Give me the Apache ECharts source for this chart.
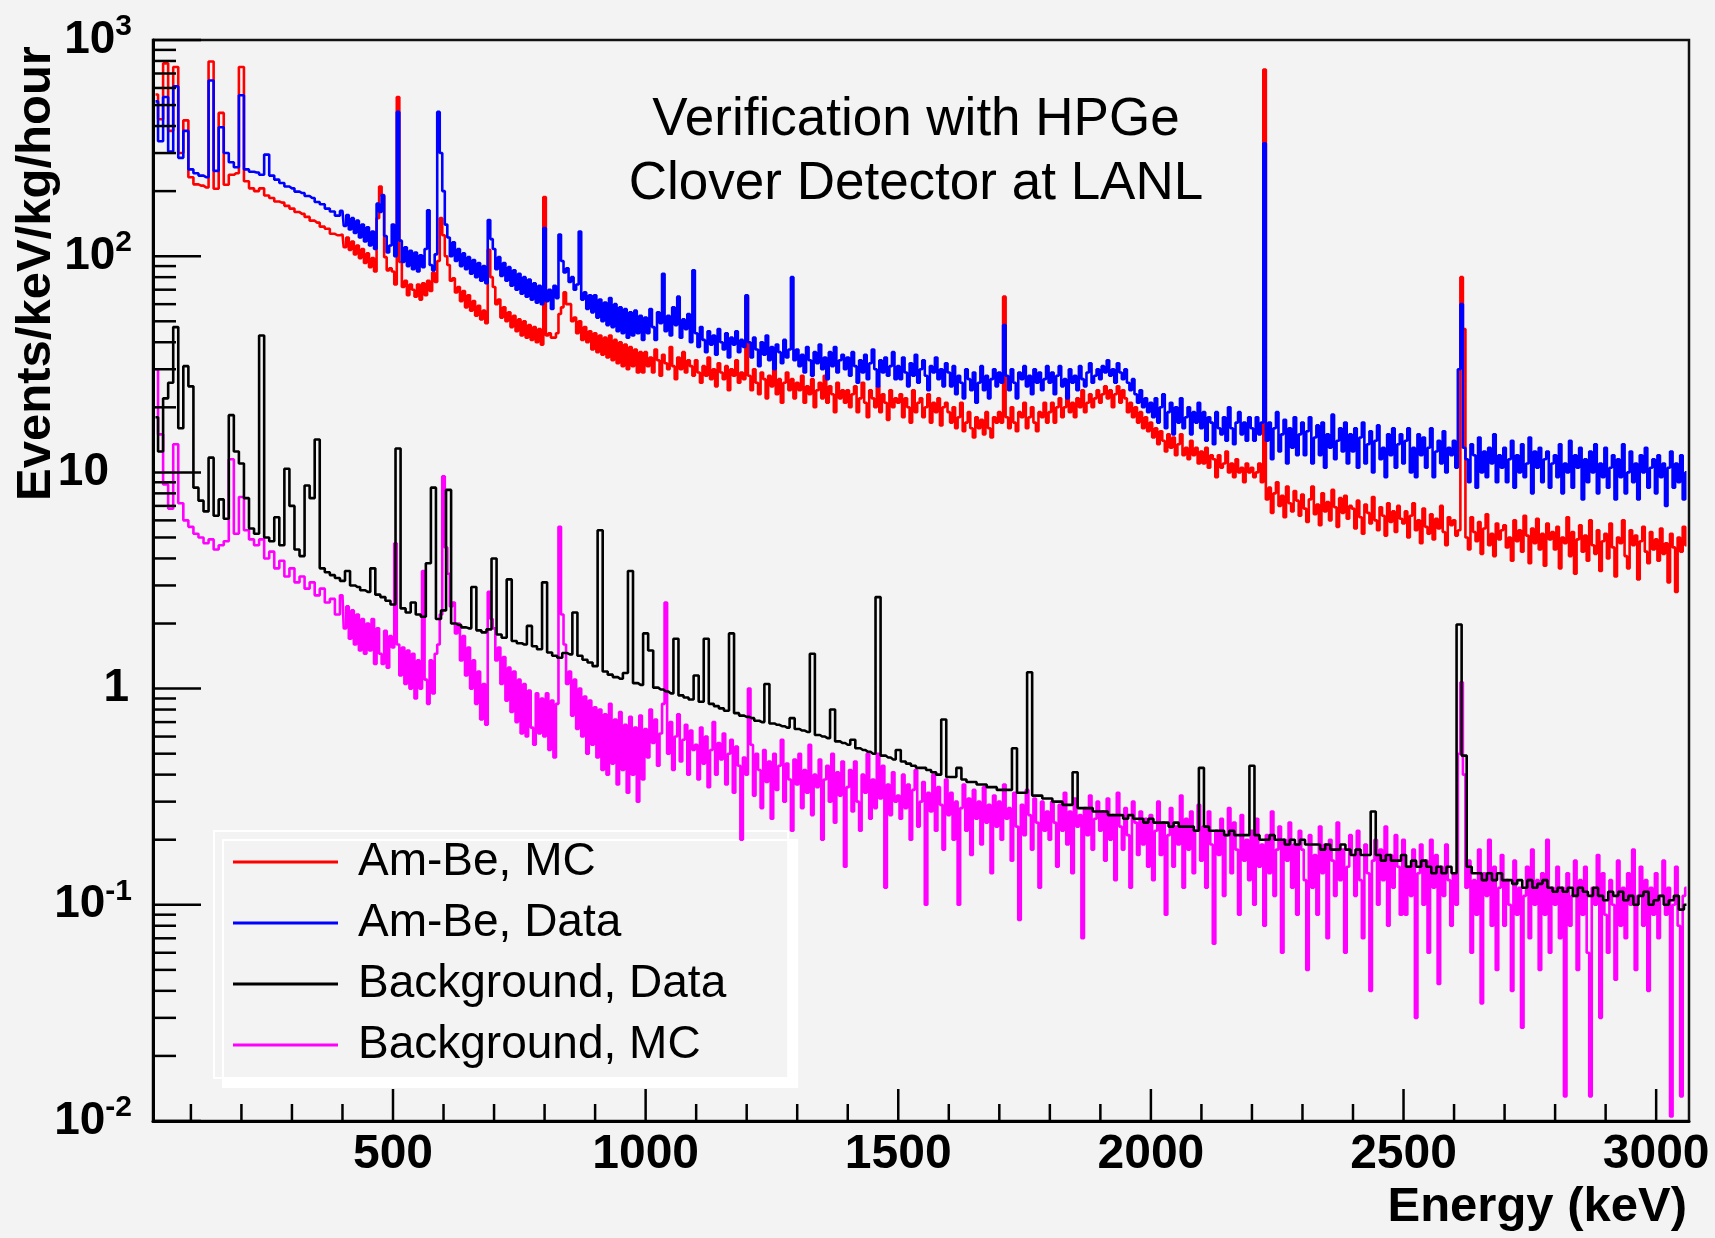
<!DOCTYPE html>
<html><head><meta charset="utf-8">
<script src="https://cdn.jsdelivr.net/npm/echarts@6/dist/echarts.min.js"></script>
<style>html,body{margin:0;padding:0;background:#f3f3f3;} #chart{width:1715px;height:1238px;}</style>
</head><body><div id="chart"></div>
<script>
// Low-energy part: 10 keV bins, centres 30..390 keV. High-energy part: 5 keV bins, centres 400..3060 keV.
const lowStart = 30, lowWidth = 10, highStart = 400, highWidth = 5;
const seriesNames = ['Am-Be, MC', 'Am-Be, Data', 'Background, Data', 'Background, MC'];

const amBeMCLow = [
 560, 430, 780, 380, 750, 300, 425, 232, 215, 212,
 208, 795, 205, 460, 214, 238, 242, 750, 222, 206,
 200, 206, 191, 186, 179, 177, 171, 166, 160, 157,
 152, 146, 143, 137, 134, 127, 125
];
const amBeMCHigh = [
 126, 110, 122, 107, 117, 102, 112, 98, 108, 93, 103, 89, 98, 85, 150, 210, 190, 99, 86, 88,
 85, 74, 545, 94, 72, 77, 66, 74, 70, 65, 74, 63, 75, 66, 77, 69, 84, 76, 95, 150,
 125, 100, 91, 77, 79, 68, 72, 62, 69, 58, 66, 56, 62, 53, 59, 51, 56, 49, 107, 80,
 72, 60, 63, 52, 58, 50, 55, 47, 53, 45, 51, 43, 50, 42, 48, 41, 47, 40, 46, 39,
 188, 43, 44, 42, 42, 44, 54, 58, 68, 60, 60, 50, 52, 44, 50, 41, 47, 40, 45, 37,
 44, 36, 43, 35, 42, 34, 43, 33, 41, 32, 40, 31, 39, 30, 38, 31, 37, 29, 36, 29,
 36, 31, 34, 29, 37, 33, 28, 35, 32, 30, 38, 31, 27, 34, 30, 36, 29, 33, 31, 28,
 33, 29, 26, 31, 28, 34, 27, 30, 25, 32, 29, 27, 31, 24, 30, 28, 33, 26, 29, 27,
 65, 28, 24, 30, 26, 23, 29, 27, 22, 28, 25, 30, 23, 27, 21, 26, 29, 24, 27, 22,
 26, 24, 28, 21, 25, 23, 27, 20, 24, 26, 22, 28, 21, 25, 23, 19, 26, 22, 24, 21,
 24, 20, 23, 25, 19, 22, 26, 21, 18, 24, 22, 20, 25, 19, 23, 21, 17.5, 24, 20, 22,
 21, 23, 18, 22, 20, 17, 24, 19, 21, 22, 18, 20, 23, 17, 21, 19, 22, 16.5, 20, 21,
 19, 17, 20, 16, 18, 21, 15.5, 17, 19, 16, 14.5, 18, 16, 17.5, 15, 19, 16, 14.5, 18, 17,
 19, 17, 65, 18, 16, 20, 17, 15.5, 19, 18, 21, 16, 18, 20, 17, 15.5, 19, 18, 21, 17,
 19, 21, 17, 20, 22, 18, 20, 23, 19, 21, 18, 22, 20, 24, 19, 21, 23, 20, 22, 24,
 21, 23, 25, 22, 24, 20, 23, 25, 21, 24, 22, 19, 21, 18, 20, 17, 19, 16, 18, 15.5,
 17, 14.5, 16, 13.5, 15.5, 14, 12.5, 15, 13, 14.5, 12, 13.5, 15, 12, 13, 11.5, 14, 12, 13, 11,
 12.5, 11, 13, 10.5, 12, 11.5, 9.5, 12, 10.5, 11, 12.5, 10, 11, 9.5, 11.5, 10, 10.5, 9, 11, 10,
 10.5, 9.5, 10, 11, 9, 730, 7.5, 8.5, 6.5, 8, 9, 7, 7.8, 6.2, 8.6, 7.2, 6.6, 8.2, 7.4, 6.3,
 7.9, 6.8, 5.9, 7.5, 8.6, 6.4, 7.1, 5.7, 8, 6.6, 7.3, 6, 8.3, 6.9, 5.6, 7.6, 6.5, 7.8, 6.1, 7,
 6.8, 5.5, 7.4, 6.2, 5.2, 7.1, 6.5, 5.8, 7.7, 6, 5.4, 6.9, 6.3, 5.1, 7.2, 5.9, 6.6, 5.3, 7, 6.1,
 5.8, 6.6, 5, 6.3, 7.2, 5.4, 6, 4.7, 6.8, 5.6, 5.2, 6.4, 4.9, 6.1, 5.5, 7, 5.3, 4.6, 6.2, 5.7,
 6, 5.1, 5.4, 80, 46, 5, 4.4, 6.2, 5.3, 4.8, 5.9, 4.2, 5.5, 6.4, 4.6, 5.2, 4.1, 5.8, 4.9, 5.4,
 5.7, 4.5, 5, 3.9, 6, 4.8, 5.4, 4.3, 6.3, 5.1, 3.8, 5.5, 4.7, 6.1, 4.4, 5.2, 3.7, 5.8, 4.9, 5.3,
 4.4, 5.6, 3.6, 5, 4.7, 6.2, 4.1, 5.3, 3.4, 4.9, 5.7, 4.3, 5.1, 3.9, 6, 4.6, 4.2, 5.4, 3.5, 4.8,
 5.2, 4, 5.8, 4.5, 3.3, 5, 4.7, 6, 4.1, 3.6, 5.4, 4.6, 5.1, 3.2, 4.8, 5.6, 4.3, 3.8, 5.3, 4.4,
 4.9, 3.9, 5.5, 4.2, 4.7, 3.1, 5.2, 4.5, 2.8, 5, 4.3, 5.6, 4.6
];

const amBeDataLow = [
 520, 340, 545, 305, 610, 285, 380, 252, 242, 236,
 232, 650, 248, 395, 300, 272, 258, 555, 252, 246,
 244, 238, 295, 236, 226, 218, 210, 206, 199, 196,
 190, 186, 178, 174, 166, 161, 154
];
const amBeDataHigh = [
 162, 138, 155, 133, 150, 128, 146, 122, 140, 117, 136, 112, 130, 108, 175, 160, 192, 124, 104, 112,
 140, 100, 465, 118, 94, 110, 90, 106, 87, 104, 85, 101, 89, 108, 163, 91, 86, 102, 465, 300,
 200, 140, 122, 100, 116, 95, 108, 90, 103, 87, 99, 83, 96, 80, 93, 77, 90, 75, 147, 120,
 108, 87, 99, 81, 93, 77, 89, 73, 86, 70, 83, 67, 80, 65, 78, 63, 75, 61, 73, 60,
 135, 62, 70, 57, 73, 64, 126, 95, 84, 88, 76, 80, 70, 74, 130, 63, 68, 57, 66, 55,
 66, 52, 63, 50, 61, 48, 64, 47, 60, 45, 58, 44, 57, 42, 55, 43, 56, 44, 53, 41,
 52, 44, 57, 47, 41, 55, 49, 83, 45, 53, 43, 58, 48, 65, 42, 51, 46, 54, 40, 86,
 44, 38, 47, 41, 36, 45, 39, 43, 35, 46, 40, 37, 44, 34, 42, 39, 45, 36, 41, 38,
 66, 40, 34, 42, 37, 31, 40, 35, 43, 33, 38, 30, 39, 36, 32, 41, 34, 37, 80, 33,
 37, 31, 35, 29, 38, 33, 28, 36, 32, 39, 30, 34, 27, 36, 31, 38, 29, 33, 35, 30,
 34, 28, 36, 31, 26, 33, 29, 35, 27, 32, 37, 30, 25, 33, 29, 34, 28, 31, 36, 27,
 31, 27, 34, 29, 25, 32, 28, 35, 26, 30, 33, 28, 24, 31, 29, 34, 27, 30, 25, 32,
 29, 25, 31, 23, 28, 26, 22, 30, 27, 24, 29, 21, 26, 31, 24, 28, 22, 27, 30, 25,
 29, 26, 48, 28, 24, 30, 26, 22, 29, 27, 31, 25, 28, 23, 30, 26, 29, 24, 27, 31,
 26, 29, 23, 28, 31, 25, 27, 22, 30, 26, 28, 24, 31, 27, 25, 29, 32, 26, 28, 30,
 27, 31, 29, 33, 28, 30, 26, 32, 29, 27, 30, 26, 24, 27, 23, 21, 24, 20, 22, 19,
 21, 18, 22, 17, 20, 23, 16, 19, 21, 15, 20, 17, 22, 16, 18, 20, 15, 19, 17, 21,
 16, 19, 14, 18, 17, 13.5, 19, 16, 15, 18, 14, 20, 16, 13.5, 17, 19, 15, 17, 14, 18,
 16, 14, 18, 15, 17, 333, 14, 17, 11.5, 16, 19, 12.5, 15, 17.5, 11, 16, 13, 18, 12, 15,
 17, 12, 15.5, 18, 11, 14.5, 16.5, 12, 17, 10.5, 15, 13, 18.5, 11.5, 14, 16, 12.5, 17, 11, 15,
 12.5, 16, 10.5, 14.5, 17, 11, 13.5, 15.5, 10, 14, 16.5, 11.5, 13, 9.5, 15, 12, 16, 10.5, 13.5, 15,
 11, 14, 16, 10, 13, 9.5, 15, 12, 14.5, 10.5, 13, 16, 9.5, 12.5, 14, 11, 15.5, 10, 13, 12,
 14, 10.5, 30, 60, 13, 11.5, 9, 13.5, 12, 8.5, 14.5, 10, 12.5, 9.5, 13, 11, 15, 9, 12, 10.5,
 13, 9, 11.5, 14, 8.5, 12, 10, 13.5, 9.5, 11, 14.5, 8, 12.5, 10.5, 13, 9, 11.5, 12.5, 8.5, 11,
 12, 9.5, 13.5, 8, 11, 10, 14, 8.5, 12, 10.5, 13, 7.5, 11.5, 9, 12.5, 10, 13.5, 8, 11, 9.5,
 13, 8.5, 10.5, 12, 7.5, 11.5, 9.5, 13.5, 8, 10, 12.5, 9, 11, 7.5, 12, 10, 13, 8.5, 10.5, 11.5,
 8, 12, 9.5, 11, 7, 10.5, 12.5, 8.5, 11, 9, 12, 7.5, 10
];

// Background data: 10 keV bins over the whole range (centres 30..3060 keV)
const bgData = [
 18, 12.5, 22, 26, 47, 16, 31, 25, 8.5, 7.4,
 6.6, 11.7, 6.3, 7.5, 6.1, 18.4, 12.5, 11, 7.6, 5.5,
 5.2, 43, 5.0, 4.8, 6.2, 4.6, 10.4, 7.0, 4.4, 4.1,
 8.7, 7.6, 14.2, 3.6, 3.45, 3.35, 3.25, 3.15, 3.5, 3.0,
 2.95, 2.85, 2.8, 3.6, 2.72, 2.65, 2.55, 2.45, 12.9, 2.35,
 2.25, 2.5, 2.2, 2.15, 3.8, 8.5, 2.1, 2.3, 8.3, 2.0,
 1.97, 1.92, 1.9, 2.95, 1.86, 1.82, 1.88, 4.0, 1.78, 1.72,
 3.2, 1.66, 1.62, 1.6, 1.95, 1.57, 1.52, 3.1, 1.47, 1.42,
 1.39, 1.46, 1.44, 2.25, 1.42, 1.36, 1.32, 1.27, 5.4, 1.2,
 1.16, 1.13, 1.11, 1.18, 3.5, 1.06, 1.04, 1.8, 1.5, 1.01,
 0.99, 0.97, 0.95, 1.7, 0.93, 0.91, 0.89, 1.15, 0.87, 1.7,
 0.85, 0.83, 0.81, 0.79, 1.8, 0.77, 0.75, 0.74, 0.73, 0.71,
 0.7, 1.05, 0.69, 0.68, 0.67, 0.66, 0.73, 0.65, 0.64, 0.63,
 1.45, 0.61, 0.6, 0.59, 0.8, 0.57, 0.56, 0.55, 0.58, 0.53,
 0.52, 0.51, 0.5, 2.65, 0.49, 0.48, 0.47, 0.52, 0.46, 0.45,
 0.44, 0.43, 0.43, 0.42, 0.41, 0.4, 0.72, 0.39, 0.39, 0.43,
 0.38, 0.37, 0.37, 0.36, 0.36, 0.35, 0.35, 0.34, 0.34, 0.34,
 0.53, 0.33, 0.33, 1.19, 0.32, 0.32, 0.31, 0.31, 0.3, 0.3,
 0.29, 0.29, 0.41, 0.28, 0.28, 0.28, 0.27, 0.27, 0.27, 0.26,
 0.26, 0.26, 0.25, 0.26, 0.25, 0.25, 0.24, 0.25, 0.24, 0.24,
 0.24, 0.23, 0.24, 0.23, 0.23, 0.23, 0.22, 0.43, 0.23, 0.22,
 0.22, 0.22, 0.21, 0.22, 0.21, 0.21, 0.21, 0.44, 0.21, 0.2,
 0.2, 0.21, 0.2, 0.2, 0.19, 0.2, 0.19, 0.2, 0.19, 0.19,
 0.19, 0.18, 0.19, 0.18, 0.18, 0.19, 0.18, 0.17, 0.18, 0.17,
 0.17, 0.27, 0.17, 0.16, 0.17, 0.16, 0.16, 0.17, 0.15, 0.16,
 0.15, 0.16, 0.15, 0.14, 0.15, 0.14, 0.15, 0.14, 1.98, 0.49,
 0.15, 0.14, 0.14, 0.13, 0.14, 0.13, 0.14, 0.13, 0.13, 0.125,
 0.13, 0.12, 0.13, 0.12, 0.125, 0.13, 0.12, 0.115, 0.12, 0.115,
 0.12, 0.11, 0.12, 0.115, 0.11, 0.12, 0.11, 0.105, 0.115, 0.11,
 0.115, 0.105, 0.11, 0.1, 0.11, 0.115, 0.1, 0.105, 0.11, 0.1,
 0.105, 0.11, 0.095, 0.1
];

const bgMCLow = [
 30, 15, 8.8, 6.8, 13.5, 7.2, 6.0, 5.6, 5.2, 5.0,
 4.7, 4.9, 4.4, 4.6, 4.8, 11.5, 5.2, 7.7, 5.4, 4.9,
 4.6, 4.9, 4.0, 4.3, 3.6, 3.9, 3.3, 3.6, 3.1, 3.3,
 2.9, 3.1, 2.7, 2.9, 2.5, 2.6, 2.2
];
const bgMCHigh = [
 2.7, 1.9, 2.4, 1.7, 2.3, 1.6, 2.2, 1.5, 2.1, 1.45, 2.0, 1.5, 2.1, 1.3, 1.9, 1.45, 1.3, 1.85, 1.25, 1.75,
 1.55, 4.7, 1.6, 1.15, 1.55, 1.05, 1.5, 1.0, 1.45, 0.9, 1.35, 1.0, 3.5, 1.1, 0.85, 1.35, 0.95, 1.45, 1.6, 2.2,
 9.6, 4.5, 3.4, 2.4, 2.5, 1.8, 2.0, 1.35, 1.75, 1.15, 1.55, 1.0, 1.35, 0.85, 1.2, 0.72, 1.05, 0.68, 2.8, 2.1,
 1.9, 1.35, 1.55, 1.05, 1.4, 0.88, 1.25, 0.78, 1.2, 0.7, 1.1, 0.62, 1.05, 0.6, 0.98, 0.66, 0.55, 0.95, 0.62, 0.9,
 0.6, 0.95, 0.52, 0.88, 0.48, 0.85, 5.6, 2.2, 1.6, 1.05, 1.2, 0.75, 1.1, 0.65, 1.0, 0.6, 0.92, 0.5, 0.88, 0.55,
 0.82, 0.48, 0.8, 0.42, 0.76, 0.4, 0.85, 0.45, 0.72, 0.36, 0.78, 0.42, 0.68, 0.33, 0.74, 0.4, 0.66, 0.3, 0.75, 0.38,
 0.65, 0.48, 0.8, 0.56, 0.72, 0.44, 0.62, 0.85, 2.5, 0.5, 0.7, 0.42, 0.6, 0.76, 0.46, 0.58, 0.68, 0.4, 0.64, 0.52,
 0.55, 0.38, 0.66, 0.45, 0.6, 0.35, 0.52, 0.7, 0.4, 0.56, 0.47, 0.62, 0.36, 0.5, 0.58, 0.33, 0.54, 0.44, 0.2, 0.48,
 0.4, 1.0, 0.55, 0.32, 0.5, 0.42, 0.28, 0.52, 0.37, 0.46, 0.25, 0.5, 0.34, 0.44, 0.58, 0.3, 0.45, 0.38, 0.22, 0.47,
 0.36, 0.5, 0.28, 0.42, 0.33, 0.55, 0.26, 0.4, 0.35, 0.47, 0.2, 0.38, 0.44, 0.3, 0.5, 0.24, 0.41, 0.32, 0.46, 0.15,
 0.35, 0.42, 0.27, 0.46, 0.3, 0.22, 0.4, 0.33, 0.5, 0.25, 0.38, 0.28, 0.5, 0.31, 0.44, 0.12, 0.36, 0.26, 0.41, 0.3,
 0.32, 0.25, 0.4, 0.28, 0.36, 0.2, 0.34, 0.42, 0.23, 0.3, 0.37, 0.1, 0.33, 0.27, 0.4, 0.22, 0.35, 0.29, 0.18, 0.38,
 0.26, 0.33, 0.2, 0.3, 0.1, 0.28, 0.36, 0.22, 0.31, 0.17, 0.34, 0.25, 0.3, 0.19, 0.35, 0.24, 0.29, 0.14, 0.32, 0.23,
 0.3, 0.2, 0.36, 0.25, 0.28, 0.16, 0.33, 0.23, 0.085, 0.29, 0.21, 0.34, 0.26, 0.18, 0.31, 0.24, 0.12, 0.3, 0.22, 0.27,
 0.2, 0.3, 0.24, 0.15, 0.29, 0.22, 0.33, 0.19, 0.27, 0.14, 0.31, 0.23, 0.26, 0.07, 0.28, 0.21, 0.32, 0.18, 0.25, 0.3,
 0.22, 0.27, 0.16, 0.31, 0.2, 0.26, 0.13, 0.33, 0.23, 0.18, 0.28, 0.21, 0.12, 0.3, 0.24, 0.17, 0.27, 0.19, 0.25, 0.15,
 0.26, 0.13, 0.22, 0.3, 0.17, 0.24, 0.09, 0.21, 0.28, 0.15, 0.23, 0.19, 0.32, 0.12, 0.25, 0.18, 0.27, 0.14, 0.22, 0.29,
 0.16, 0.23, 0.12, 0.27, 0.19, 0.066, 0.22, 0.17, 0.25, 0.11, 0.21, 0.28, 0.14, 0.24, 0.18, 0.09, 0.26, 0.16, 0.2, 0.13,
 0.22, 0.1, 0.25, 0.15, 0.19, 0.08, 0.21, 0.14, 0.27, 0.11, 0.18, 0.23, 0.06, 0.2, 0.16, 0.24, 0.12, 0.19, 0.09, 0.22,
 0.18, 0.13, 0.05, 0.21, 0.12, 0.17, 0.09, 0.23, 0.14, 0.19, 0.07, 0.2, 0.16, 0.11, 0.24, 0.13, 0.18, 0.06, 0.15, 0.21,
 0.17, 0.11, 0.22, 0.13, 0.07, 0.19, 0.14, 0.04, 0.16, 0.2, 0.1, 0.18, 0.13, 0.23, 0.08, 0.17, 0.12, 0.21, 0.15, 0.09,
 0.2, 0.09, 0.15, 0.11, 0.18, 0.03, 0.14, 0.19, 0.1, 0.16, 0.06, 0.2, 0.12, 0.17, 0.043, 0.15, 0.11, 0.19, 0.13, 0.08,
 0.14, 0.1, 0.5, 1.07, 0.4, 0.12, 0.16, 0.06, 0.13, 0.09, 0.18, 0.035, 0.14, 0.11, 0.2, 0.08, 0.15, 0.05, 0.12, 0.17,
 0.08, 0.13, 0.1, 0.04, 0.16, 0.09, 0.12, 0.027, 0.11, 0.15, 0.07, 0.18, 0.1, 0.13, 0.05, 0.14, 0.09, 0.2, 0.06, 0.12,
 0.1, 0.15, 0.07, 0.12, 0.013, 0.14, 0.08, 0.11, 0.16, 0.05, 0.13, 0.09, 0.15, 0.06, 0.013, 0.12, 0.1, 0.17, 0.03, 0.14,
 0.09, 0.06, 0.13, 0.1, 0.045, 0.16, 0.08, 0.12, 0.07, 0.14, 0.1, 0.18, 0.05, 0.11, 0.15, 0.08, 0.13, 0.04, 0.12, 0.09,
 0.14, 0.07, 0.11, 0.16, 0.09, 0.12, 0.0105, 0.1, 0.15, 0.08, 0.013, 0.11, 0.12
];

// Axis ticks
const xMajorTicks = [500, 1000, 1500, 2000, 2500, 3000];
const xMinorTicks = [100, 200, 300, 400, 600, 700, 800, 900, 1100, 1200, 1300, 1400,
  1600, 1700, 1800, 1900, 2100, 2200, 2300, 2400, 2600, 2700, 2800, 2900];
const yMajorTicks = [0.01, 0.1, 1, 10, 100, 1000];
const yMinorMantissas = [2, 3, 4, 5, 6, 7, 8, 9];

const X_MIN = 25, X_MAX = 3065, Y_MIN = 0.01, Y_MAX = 1000;
const FONT = '"Liberation Sans", Arial, Helvetica, sans-serif';
const colors = ['#ff0000', '#0000ff', '#000000', '#ff00ff'];

function toPairs(vals, start, width) { return vals.map((v, i) => [start + i * width, v]); }
function joinParts(low, high) { return toPairs(low, lowStart, lowWidth).concat(toPairs(high, highStart, highWidth)); }

const yTickData = [];
yMajorTicks.forEach(v => yTickData.push([X_MIN, v, 1]));
yMajorTicks.slice(0, 5).forEach(d => yMinorMantissas.forEach(m => yTickData.push([X_MIN, +(m * d).toPrecision(3), 0])));
const xTickData = [];
xMajorTicks.forEach(v => xTickData.push([v, Y_MIN, 1]));
xMinorTicks.forEach(v => xTickData.push([v, Y_MIN, 0]));

const chart = echarts.init(document.getElementById('chart'), null, {renderer: 'canvas'});

function histSeries(name, pairs, color, z) {
  return {
    name: name, type: 'line', step: 'middle', data: pairs,
    symbol: 'none', showSymbol: false, color: color, z: z,
    lineStyle: {color: color, width: 2.6}, itemStyle: {color: color},
    animation: false, silent: true, sampling: null
  };
}

const lab = {fontFamily: FONT, fontWeight: 'bold', color: '#000'};

const option = {
  backgroundColor: '#f3f3f3',
  animation: false,
  title: {
    text: 'Verification with HPGe\nClover Detector at LANL',
    left: 916, top: 88, textAlign: 'center', padding: 0,
    textStyle: {fontFamily: FONT, fontSize: 53, fontWeight: 'normal', color: '#000', lineHeight: 64}
  },
  legend: {
    data: seriesNames,
    orient: 'vertical', left: 214, top: 831,
    padding: [6, 62, 8, 19], itemGap: 11, itemWidth: 105, itemHeight: 3,
    icon: 'rect', selectedMode: false,
    backgroundColor: '#f3f3f3', borderColor: '#ffffff', borderWidth: 2, borderRadius: 0,
    shadowColor: '#ffffff', shadowOffsetX: 9, shadowOffsetY: 9, shadowBlur: 0.01,
    textStyle: {fontFamily: FONT, fontSize: 46, color: '#000', lineHeight: 50, padding: [0, 0, 0, 15]}
  },
  grid: {left: 153, right: 26, top: 40, bottom: 117, containLabel: false,
    show: true, borderColor: '#111', borderWidth: 2.5, backgroundColor: 'transparent'},
  xAxis: {
    type: 'value', min: X_MIN, max: X_MAX, splitNumber: 6,
    name: 'Energy (keV)', nameLocation: 'end', nameGap: -2, nameMoveOverlap: false,
    nameTextStyle: Object.assign({}, lab, {fontSize: 49, align: 'right', verticalAlign: 'top', lineHeight: 56, padding: [58, 0, 0, 0]}),
    axisLine: {show: true, onZero: false, lineStyle: {color: '#000', width: 3}},
    axisTick: {show: false}, splitLine: {show: false}, minorTick: {show: false},
    axisLabel: Object.assign({}, lab, {fontSize: 48, margin: 10, lineHeight: 48,
      showMinLabel: false, showMaxLabel: false,
      formatter: v => (Math.abs(v % 500) < 1e-6 ? String(v) : '')})
  },
  yAxis: {
    type: 'log', logBase: 10, min: Y_MIN, max: Y_MAX, splitNumber: 5,
    name: 'Events/keV/kg/hour', nameLocation: 'middle', nameRotate: 90, nameGap: 89, nameMoveOverlap: false,
    nameTextStyle: Object.assign({}, lab, {fontSize: 49, lineHeight: 56, padding: [0, 0, 0, 614]}),
    axisLine: {show: true, onZero: false, lineStyle: {color: '#000', width: 3}},
    axisTick: {show: false}, splitLine: {show: false}, minorTick: {show: false},
    axisLabel: {
      margin: 21,
      formatter: function (v) {
        const n = Math.round(Math.log10(v));
        if (n === 0) return '{one|1}';
        if (n === 1) return '{ten|10}';
        return '{b|10}{s|' + n + '}';
      },
      rich: {
        b: Object.assign({}, lab, {fontSize: 46, lineHeight: 56, verticalAlign: 'middle'}),
        s: Object.assign({}, lab, {fontSize: 30, lineHeight: 22, verticalAlign: 'top'}),
        ten: Object.assign({}, lab, {fontSize: 46, lineHeight: 56, verticalAlign: 'middle', padding: [0, 23, 0, 0]}),
        one: Object.assign({}, lab, {fontSize: 46, lineHeight: 56, verticalAlign: 'middle', padding: [0, 3, 0, 0]})
      }
    }
  },
  series: [
    histSeries(seriesNames[0], joinParts(amBeMCLow, amBeMCHigh), colors[0], 2),
    histSeries(seriesNames[1], joinParts(amBeDataLow, amBeDataHigh), colors[1], 3),
    histSeries(seriesNames[3], joinParts(bgMCLow, bgMCHigh), colors[3], 4),
    histSeries(seriesNames[2], toPairs(bgData, lowStart, lowWidth), colors[2], 5),
    {
      name: 'yTicks', type: 'custom', coordinateSystem: 'cartesian2d', silent: true, z: 10, clip: false,
      data: yTickData,
      renderItem: function (params, api) {
        const p = api.coord([api.value(0), api.value(1)]);
        const len = api.value(2) ? 48 : 23;
        return {type: 'line', shape: {x1: p[0], y1: p[1], x2: p[0] + len, y2: p[1]},
          style: {stroke: '#000', lineWidth: 2.5}};
      }
    },
    {
      name: 'xTicks', type: 'custom', coordinateSystem: 'cartesian2d', silent: true, z: 10, clip: false,
      data: xTickData,
      renderItem: function (params, api) {
        const p = api.coord([api.value(0), api.value(1)]);
        const len = api.value(2) ? 32 : 17;
        return {type: 'line', shape: {x1: p[0], y1: p[1], x2: p[0], y2: p[1] - len},
          style: {stroke: '#000', lineWidth: 2.5}};
      }
    }
  ]
};
chart.setOption(option);
</script></body></html>
